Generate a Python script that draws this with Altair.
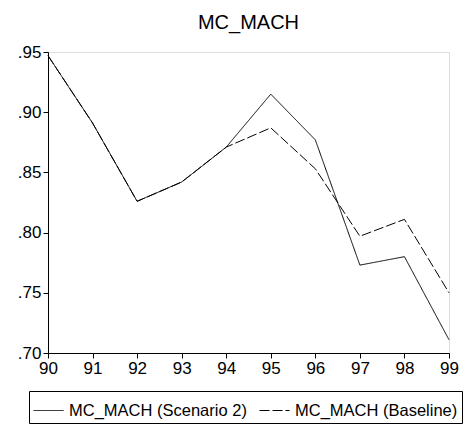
import altair as alt
import pandas as pd

years = [90, 91, 92, 93, 94, 95, 96, 97, 98, 99]
scenario2 = [0.947, 0.891, 0.826, 0.842, 0.871, 0.915, 0.877, 0.773, 0.780, 0.711]
baseline = [0.947, 0.891, 0.826, 0.842, 0.871, 0.887, 0.853, 0.797, 0.811, 0.750]
series_names = ["MC_MACH (Scenario 2)", "MC_MACH (Baseline)"]
y_ticks = [0.70, 0.75, 0.80, 0.85, 0.90, 0.95]

rows = []
for yr, v in zip(years, scenario2):
    rows.append({"year": yr, "value": v, "series": series_names[0]})
for yr, v in zip(years, baseline):
    rows.append({"year": yr, "value": v, "series": series_names[1]})
df = pd.DataFrame(rows)

FONT = "Liberation Sans"

chart = alt.Chart(df, title=alt.Title(
    "MC_MACH", fontSize=20, fontWeight="normal", font=FONT, color="black",
    anchor="middle", offset=10,
)).mark_line(color="black", strokeWidth=1).encode(
    x=alt.X("year:Q", scale=alt.Scale(domain=[90, 99], nice=False, zero=False),
            axis=alt.Axis(title=None, values=years, format="d", grid=False,
                          tickSize=5, labelFontSize=17, labelPadding=2,
                          labelFont=FONT, labelColor="black", domainColor="black",
                          tickColor="black", labelFlush=False)),
    y=alt.Y("value:Q", scale=alt.Scale(domain=[0.70, 0.95], nice=False, zero=False),
            axis=alt.Axis(title=None, values=y_ticks, grid=False, tickSize=5,
                          labelExpr="substring(format(datum.value, '.2f'), 1)",
                          labelFontSize=17, labelPadding=2, labelFont=FONT,
                          labelColor="black", domainColor="black", tickColor="black")),
    strokeDash=alt.StrokeDash("series:N",
        scale=alt.Scale(domain=series_names, range=[[1, 0], [10, 3]]),
        legend=alt.Legend(title=None, orient="none", legendX=-19, legendY=339,
                          direction="horizontal", columns=2, symbolType="stroke",
                          symbolSize=900, symbolStrokeColor="black", symbolStrokeWidth=1,
                          labelFontSize=16.5, labelFont=FONT, labelColor="black",
                          labelLimit=400, strokeColor="black", padding=4, cornerRadius=0,
                          columnPadding=10, labelOffset=5)),
    order="year:Q",
).properties(
    width=401, height=301,
    autosize=alt.AutoSizeParams(type="none"),
    padding={"left": 40, "top": 44, "right": 14, "bottom": 90},
).configure_view(stroke="black", strokeWidth=1).configure(background="white")

chart.save("out.html", embed_options={"renderer": "svg", "actions": False})
